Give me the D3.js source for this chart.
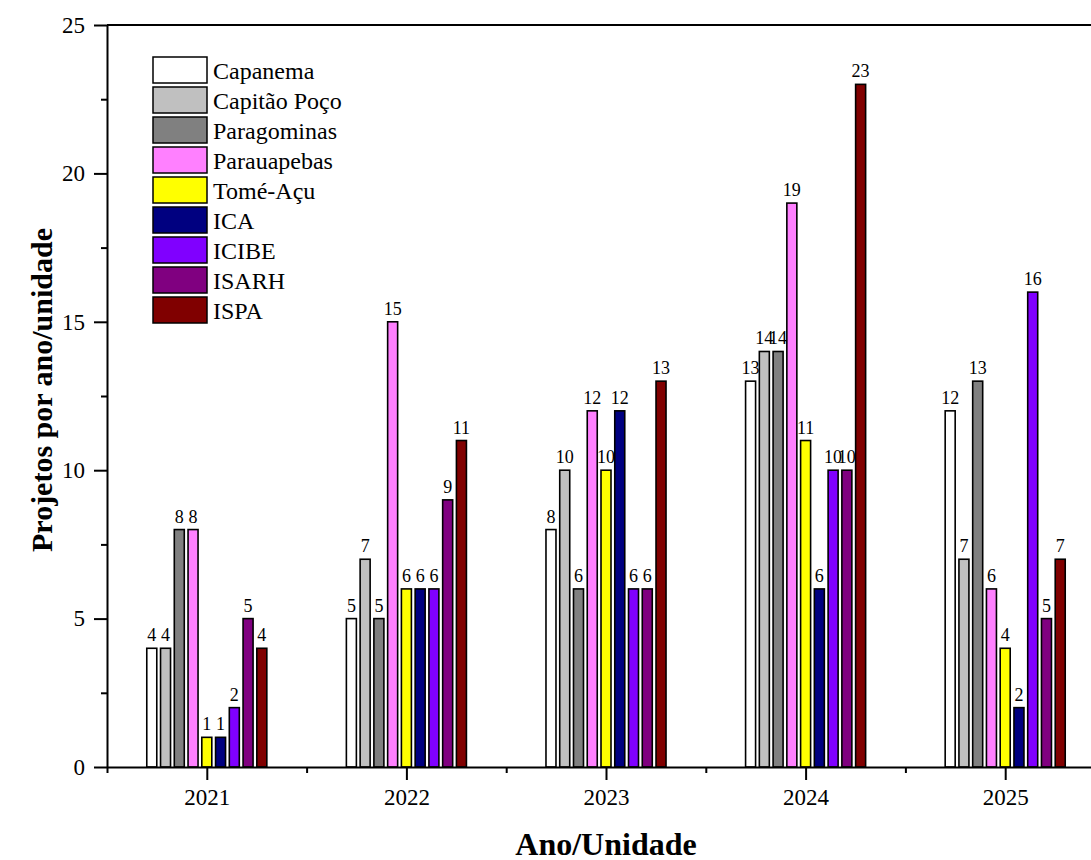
<!DOCTYPE html>
<html>
<head>
<meta charset="utf-8">
<script src="https://cdn.jsdelivr.net/npm/d3@7"></script>
<style>
  body { margin: 0; background: #fff; }
  text { font-family: "Times New Roman", "Liberation Serif", serif; fill: #000; }
</style>
</head>
<body>
<div id="chart-area"></div>
<script>
// data
var years = [2021, 2022, 2023, 2024, 2025];
var units = ["Capanema", "Capitão Poço", "Paragominas", "Parauapebas", "Tomé-Açu", "ICA", "ICIBE", "ISARH", "ISPA"];
var colors = ["#FFFFFF", "#C0C0C0", "#808080", "#FF80FF", "#FFFF00", "#000080", "#8000FF", "#800080", "#800000"];
var values = [
  [4, 4, 8, 8, 1, 1, 2, 5, 4],      // 2021
  [5, 7, 5, 15, 6, 6, 6, 9, 11],    // 2022
  [8, 10, 6, 12, 10, 12, 6, 6, 13], // 2023
  [13, 14, 14, 19, 11, 6, 10, 10, 23], // 2024
  [12, 7, 13, 6, 4, 2, 16, 5, 7]    // 2025
];
var yTicks = [0, 5, 10, 15, 20, 25];
var yMinor = [2.5, 7.5, 12.5, 17.5, 22.5];
var xMinor = [2020.5, 2021.5, 2022.5, 2023.5, 2024.5, 2025.5];

var W = 1091, H = 860;
var plotLeft = 107, plotTop = 25, plotBottom = 767;
var serif = "'Times New Roman', 'Liberation Serif', serif";

var svg = d3.select("#chart-area").append("svg")
  .attr("width", W)
  .attr("height", H);

var x = d3.scaleLinear().domain([2020.5, 2025.5]).range([plotLeft, plotLeft + 5 * 199.6]);
var y = d3.scaleLinear().domain([0, 25]).range([plotBottom, plotTop]);

// position inside each year group
var inner = d3.scaleBand().domain(units)
  .range([-61.9, 61.9])
  .paddingInner(0.273)
  .paddingOuter(0.1365);

var rows = [];
years.forEach(function(yr, i) {
  units.forEach(function(u, j) {
    rows.push({ year: yr, unit: u, value: values[i][j], color: colors[j] });
  });
});

// bars
svg.append("g").selectAll("rect")
  .data(rows)
  .enter()
  .append("rect")
  .attr("x", function(d) { return x(d.year) + inner(d.unit); })
  .attr("y", function(d) { return y(d.value); })
  .attr("width", inner.bandwidth())
  .attr("height", function(d) { return y(0) - y(d.value); })
  .attr("fill", function(d) { return d.color; })
  .attr("stroke", "#000")
  .attr("stroke-width", 1.6);

// value labels
svg.append("g").selectAll("text")
  .data(rows)
  .enter()
  .append("text")
  .attr("x", function(d) { return x(d.year) + inner(d.unit) + inner.bandwidth() / 2; })
  .attr("y", function(d) { return y(d.value) - 7; })
  .attr("text-anchor", "middle")
  .style("font-size", "18px")
  .text(function(d) { return d.value; });

// top frame line
svg.append("line")
  .attr("x1", plotLeft).attr("x2", W)
  .attr("y1", plotTop).attr("y2", plotTop)
  .attr("stroke", "#000").attr("stroke-width", 2);

// y axis
var yAxis = d3.axisLeft(y).tickValues(yTicks).tickSize(13).tickSizeOuter(0).tickPadding(9);
var gy = svg.append("g").attr("transform", "translate(" + plotLeft + ",0)").call(yAxis);
gy.selectAll("text").style("font-size", "23px").style("font-family", serif);
gy.selectAll("line, path").attr("stroke-width", 2);

var yAxisMinor = d3.axisLeft(y).tickValues(yMinor).tickSize(6).tickSizeOuter(0).tickFormat("");
var gym = svg.append("g").attr("transform", "translate(" + plotLeft + ",0)").call(yAxisMinor);
gym.select("path").remove();
gym.selectAll("line").attr("stroke-width", 2);

// x axis
var xAxis = d3.axisBottom(x).tickValues(years).tickFormat(d3.format("d")).tickSize(13).tickSizeOuter(0).tickPadding(9);
var gx = svg.append("g").attr("transform", "translate(0," + plotBottom + ")").call(xAxis);
gx.selectAll("text").style("font-size", "23px").style("font-family", serif);
gx.selectAll("line, path").attr("stroke-width", 2);

var xAxisMinor = d3.axisBottom(x).tickValues(xMinor).tickSize(6).tickSizeOuter(0).tickFormat("");
var gxm = svg.append("g").attr("transform", "translate(0," + plotBottom + ")").call(xAxisMinor);
gxm.select("path").remove();
gxm.selectAll("line").attr("stroke-width", 2);

// axis titles
svg.append("text")
  .attr("x", 606)
  .attr("y", 855)
  .attr("text-anchor", "middle")
  .style("font-size", "32px")
  .style("font-weight", "bold")
  .text("Ano/Unidade");

svg.append("text")
  .attr("transform", "translate(52,390) rotate(-90)")
  .attr("text-anchor", "middle")
  .style("font-size", "30px")
  .style("font-weight", "bold")
  .text("Projetos por ano/unidade");

// legend
var legend = svg.append("g").attr("transform", "translate(153,57)");
var item = legend.selectAll("g")
  .data(units)
  .enter()
  .append("g")
  .attr("transform", function(d, i) { return "translate(0," + (i * 30) + ")"; });

item.append("rect")
  .attr("width", 54)
  .attr("height", 26)
  .attr("fill", function(d, i) { return colors[i]; })
  .attr("stroke", "#000")
  .attr("stroke-width", 1.5);

item.append("text")
  .attr("x", 60)
  .attr("y", 22)
  .style("font-size", "24px")
  .text(function(d) { return d; });
</script>
</body>
</html>
